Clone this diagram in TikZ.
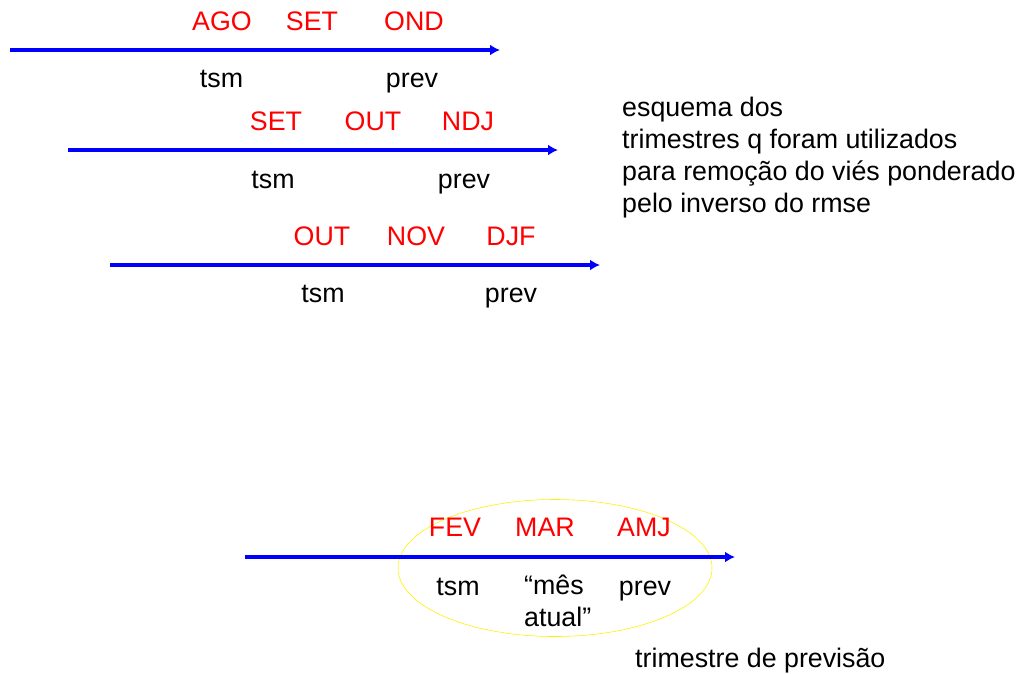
\documentclass[tikz,border=0pt]{standalone}
\usepackage{fontspec}
\setmainfont{Liberation Sans}
\usetikzlibrary{arrows.meta,shapes.geometric}
\begin{document}
\begin{tikzpicture}[x=1pt,y=-1pt,
  every node/.style={font=\fontsize{26.8}{32}\selectfont, inner sep=0pt},
  mon/.style={text=red, anchor=base},
  lab/.style={text=black, anchor=base},
  axis/.style={draw=blue, line width=3.5pt, -{Latex[length=10pt,width=11pt]}}]
\useasboundingbox (0,0) rectangle (1019,673);

% first series
\coordinate (a1) at (10,50);  \coordinate (b1) at (500,50);
\draw[axis] (a1) -- (b1);
\node[mon] (m11) at (222,30) {AGO};
\node[mon] (m12) at (312,30) {SET};
\node[mon] (m13) at (414,30) {OND};
\node[lab] (t1) at (221.5,87) {tsm};
\node[lab] (p1) at (412,87) {prev};

% second series
\coordinate (a2) at (68,150); \coordinate (b2) at (558,150);
\draw[axis] (a2) -- (b2);
\node[mon] (m21) at (276,130) {SET};
\node[mon] (m22) at (373,130) {OUT};
\node[mon] (m23) at (468,130) {NDJ};
\node[lab] (t2) at (273,188) {tsm};
\node[lab] (p2) at (464,188) {prev};

% third series
\coordinate (a3) at (110,265); \coordinate (b3) at (600,265);
\draw[axis] (a3) -- (b3);
\node[mon] (m31) at (322,245) {OUT};
\node[mon] (m32) at (416,245) {NOV};
\node[mon] (m33) at (511,245) {DJF};
\node[lab] (t3) at (323,302) {tsm};
\node[lab] (p3) at (511,302) {prev};

% explanation (base anchor sits on the last line)
\node[lab, anchor=base west, align=left] (txt) at (622,212)
  {esquema dos\\trimestres q foram utilizados\\para remoção do viés ponderado\\pelo inverso do rmse};

% forecast season
\node[draw=yellow, ellipse, line width=0.6pt, minimum width=314pt, minimum height=137pt] (ell) at (555,568) {};
\coordinate (a4) at (245,557); \coordinate (b4) at (735,557);
\draw[axis] (a4) -- (b4);
\node[mon] (m41) at (455,536) {FEV};
\node[mon] (m42) at (545,536) {MAR};
\node[mon] (m43) at (644,536) {AMJ};
\node[lab] (t4) at (458,595) {tsm};
\node[lab, anchor=base west, align=left] (cur) at (524,626) {“mês\\atual”};
\node[lab] (p4) at (645,595) {prev};
\node[lab, anchor=base west] (fc) at (635,667) {trimestre de previsão};
\end{tikzpicture}
\end{document}
